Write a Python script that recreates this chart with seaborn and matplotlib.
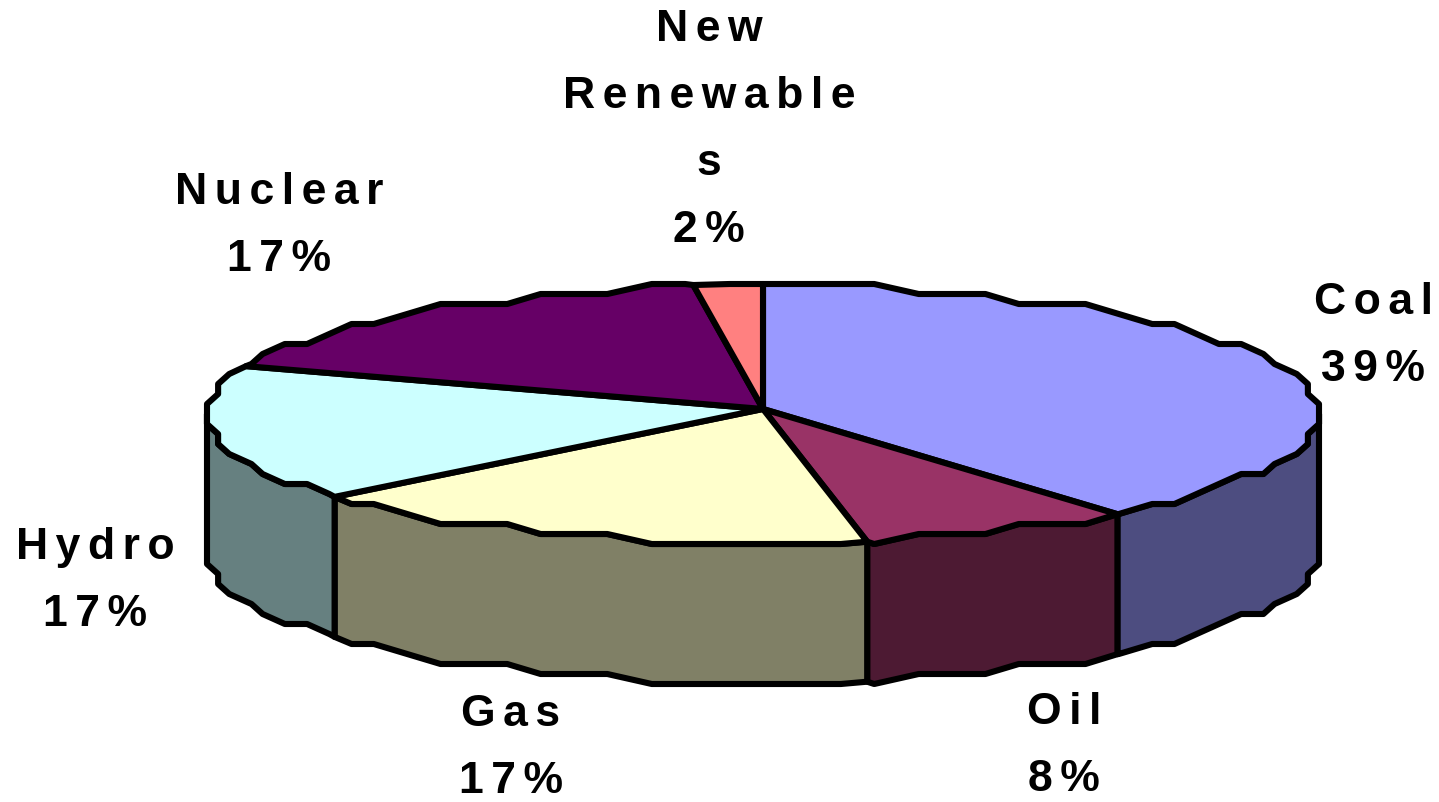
import numpy as np
import matplotlib
matplotlib.use('Agg')
import matplotlib.pyplot as plt
from matplotlib.patches import Polygon
import seaborn as sns

# energy mix, clockwise from 12 o'clock
sources = ['Coal', 'Oil', 'Gas', 'Hydro', 'Nuclear', 'New\nRenewable\ns']
shares = [39, 8, 17, 17, 17, 2]
colours = ['#9999FF', '#993366', '#FFFFCC', '#CCFFFF', '#660066', '#FF8080']

# pie geometry in image pixels
cx, cy = 763, 415
pivot_y = 410
rx, ry = 556, 130
depth = 140
grid_x, grid_y = rx / 50, 10  # snapping gives the rim its rough, stepped look

# label centres (x, y of the block middle)
label_pos = [(1373, 336), (1064, 746), (511, 748), (95, 581), (279, 226), (709, 130)]

sns.set_theme(style='white')
plt.rcParams['font.family'] = ['Liberation Sans', 'DejaVu Sans']
palette = sns.color_palette(colours)


# rim() gives points of the ellipse between two angles, measured clockwise from the top
# inner points sit on a shared 4 degree step so that wall and top follow the same edge
def rim(a0, a1, drop=0):
    inner = np.arange(np.ceil(a0 / 4 + 1e-6), np.floor(a1 / 4 - 1e-6) + 1) * 4
    t = np.radians(inner)
    x = np.round(rx * np.sin(t) / grid_x) * grid_x
    y = np.round(-ry * np.cos(t) / grid_y) * grid_y
    start = np.radians(a0)
    stop = np.radians(a1)
    x = np.concatenate([[rx * np.sin(start)], x, [rx * np.sin(stop)]])
    y = np.concatenate([[-ry * np.cos(start)], y, [-ry * np.cos(stop)]])
    return np.column_stack([cx + x, cy + y + drop])


# spaced() widens the letters with hair spaces, the original label is tracked out
def spaced(s):
    return '\n'.join('\u200a\u200a'.join(line) for line in s.split('\n'))


fig, ax = plt.subplots(figsize=(14.39, 8.03), dpi=100)
fig.subplots_adjust(0, 0, 1, 1)
ax.set_xlim(0, 1439)
ax.set_ylim(803, 0)
ax.axis('off')

edges = np.cumsum([0] + shares) / sum(shares) * 360

# front wall first, the top goes over it
for i in range(len(shares)):
    a0, a1 = max(edges[i], 90), min(edges[i + 1], 270)
    if a0 < a1:
        top = rim(a0, a1)
        bottom = rim(a0, a1, depth)[::-1]
        side = np.array(palette[i]) * 0.5
        ax.add_patch(Polygon(np.vstack([top, bottom]), closed=True, facecolor=side,
                             edgecolor='black', linewidth=4.4, joinstyle='round'))

for i in range(len(shares)):
    pts = np.vstack([[cx, pivot_y], rim(edges[i], edges[i + 1])])
    ax.add_patch(Polygon(pts, closed=True, facecolor=palette[i],
                         edgecolor='black', linewidth=4.4, joinstyle='round'))

for name, share, (lx, ly) in zip(sources, shares, label_pos):
    ax.text(lx, ly, spaced(f'{name}\n{share}%'), ha='center', va='center', multialignment='center',
            fontsize=32, fontweight='bold', color='black', linespacing=1.81)

fig.savefig('out.png', dpi=100)
